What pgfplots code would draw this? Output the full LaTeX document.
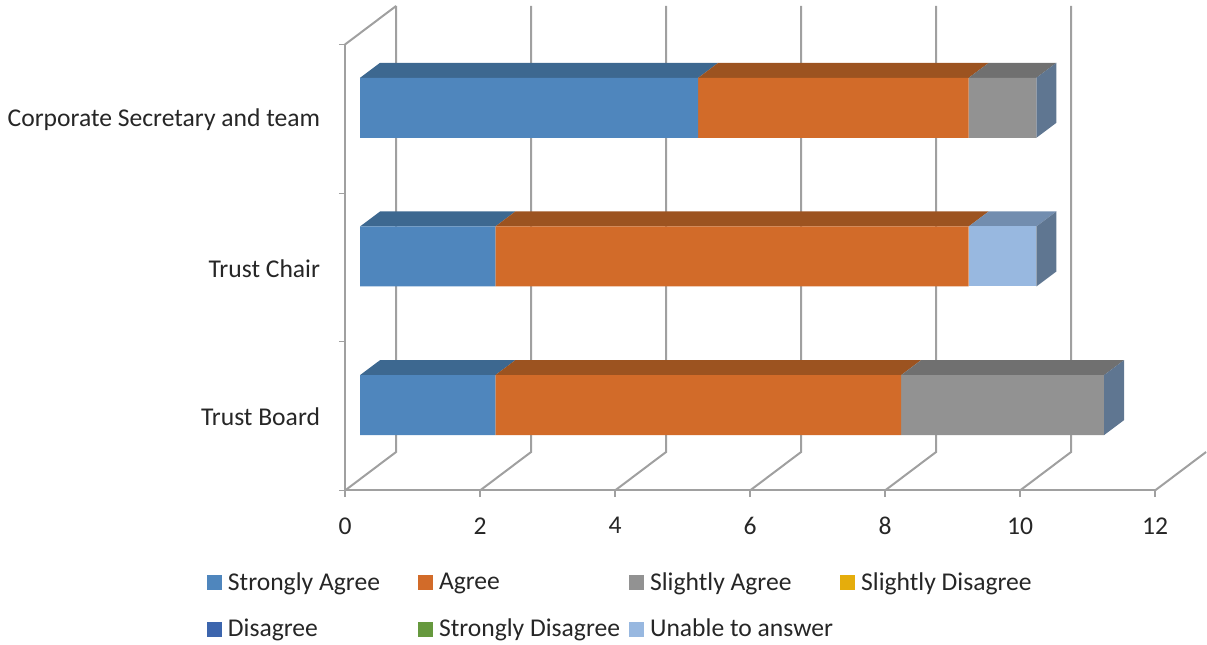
\documentclass[border=0pt]{standalone}
\usepackage{pgfplots}
\pgfplotsset{compat=1.18}
\usepackage{fontspec}
\setmainfont{Carlito}

\definecolor{wallgray}{HTML}{A0A0A0}
\definecolor{txt}{HTML}{262626}
\definecolor{sa}{HTML}{4F86BD}
\definecolor{ag}{HTML}{D26B29}
\definecolor{sl}{HTML}{929292}
\definecolor{sd}{HTML}{E5AD0C}
\definecolor{di}{HTML}{3C65AD}
\definecolor{st}{HTML}{66993E}
\definecolor{un}{HTML}{98B8E0}
\definecolor{satop}{HTML}{3D6890}
\definecolor{agtop}{HTML}{9C5320}
\definecolor{sltop}{HTML}{707070}
\definecolor{untop}{HTML}{728DAF}
\definecolor{barside}{HTML}{5F7691}

\pgfplotsset{
  chartbox/.style={
    scale only axis, width=607.5pt, height=334.5pt,
    xmin=0, xmax=12, ymin=0, ymax=3, clip=false,
  },
  barbox/.style={
    chartbox, width=608.7pt, at={(270pt,124.125pt)}, anchor=south west, hide axis,
  },
  wall/.style={draw=wallgray, line width=1.5pt},
  face/.style={draw=none, fill=#1},
  swatch/.style={
    fill=#1, draw=none,
    legend image code/.code={\fill[##1] (0pt,-5.6pt) rectangle (11.2pt,5.6pt);},
  },
}

\begin{document}
\begin{tikzpicture}
\path[use as bounding box] (0,0) rectangle (905.25pt,483.75pt);

% Frame, walls and gridlines
\begin{axis}[
  chartbox, at={(258.75pt,115.875pt)}, anchor=south west,
  axis x line=bottom, axis y line=left,
  axis line style={draw=wallgray, line width=1.5pt, -},
  tick align=outside,
  xtick={0,2,...,12},
  ytick={0.5,1.5,2.5},
  yticklabels={Trust Board,Trust Chair,Corporate Secretary and team},
  minor ytick={0,1,2,3},
  major tick length=0pt,
  minor tick length=4.5pt,
  every minor tick/.style={draw=wallgray, line width=0.9pt},
  extra x ticks={0,2,...,12},
  extra x tick labels={},
  extra x tick style={major tick length=5pt, tick style={draw=wallgray, line width=0.9pt}},
  ticklabel style={font=\fontsize{19.2}{21}\selectfont, text=txt},
  y tick label style={inner sep=0pt, xshift=-18.5pt, yshift=-0.7pt},
  x tick label style={inner sep=0pt, yshift=-20pt},
  /pgf/number format/assume math mode=true,
]
\addplot[wall] coordinates {(0,3) (0.757,3.259)};
\addplot[wall] coordinates {(0,0) (0.757,0.259) (0.757,3.259)};
\addplot[wall] coordinates {(2,0) (2.757,0.259) (2.757,3.259)};
\addplot[wall] coordinates {(4,0) (4.757,0.259) (4.757,3.259)};
\addplot[wall] coordinates {(6,0) (6.757,0.259) (6.757,3.259)};
\addplot[wall] coordinates {(8,0) (8.757,0.259) (8.757,3.259)};
\addplot[wall] coordinates {(10,0) (10.757,0.259) (10.757,3.259)};
\addplot[wall] coordinates {(12,0) (12.757,0.259)};
\end{axis}

% Top and end faces of the bars
\begin{axis}[barbox]
% Trust Board: 2, 6, 3
\addplot[face=satop] coordinates {(0,0.7018) (2,0.7018) (2.2963,0.8027) (0.2963,0.8027)} -- cycle;
\addplot[face=agtop] coordinates {(2,0.7018) (8,0.7018) (8.2963,0.8027) (2.2963,0.8027)} -- cycle;
\addplot[face=sltop] coordinates {(8,0.7018) (11,0.7018) (11.2963,0.8027) (8.2963,0.8027)} -- cycle;
\addplot[face=barside] coordinates {(11,0.2982) (11,0.7018) (11.2963,0.8027) (11.2963,0.3991)} -- cycle;
% Trust Chair: 2, 7, unable to answer 1
\addplot[face=satop] coordinates {(0,1.7018) (2,1.7018) (2.2963,1.8027) (0.2963,1.8027)} -- cycle;
\addplot[face=agtop] coordinates {(2,1.7018) (9,1.7018) (9.2963,1.8027) (2.2963,1.8027)} -- cycle;
\addplot[face=untop] coordinates {(9,1.7018) (10,1.7018) (10.2963,1.8027) (9.2963,1.8027)} -- cycle;
\addplot[face=barside] coordinates {(10,1.2982) (10,1.7018) (10.2963,1.8027) (10.2963,1.3991)} -- cycle;
% Corporate Secretary and team: 5, 4, 1
\addplot[face=satop] coordinates {(0,2.7018) (5,2.7018) (5.2963,2.8027) (0.2963,2.8027)} -- cycle;
\addplot[face=agtop] coordinates {(5,2.7018) (9,2.7018) (9.2963,2.8027) (5.2963,2.8027)} -- cycle;
\addplot[face=sltop] coordinates {(9,2.7018) (10,2.7018) (10.2963,2.8027) (9.2963,2.8027)} -- cycle;
\addplot[face=barside] coordinates {(10,2.2982) (10,2.7018) (10.2963,2.8027) (10.2963,2.3991)} -- cycle;
\end{axis}

% Stacked front faces and the legend
\begin{axis}[
  barbox,
  xbar stacked, bar width=45pt,
  legend columns=4,
  legend cell align=left,
  legend style={
    at={(-0.1885,-0.209)}, anchor=north west,
    draw=none, fill=none, inner sep=0pt, outer sep=0pt,
    font=\fontsize{19.2}{21}\selectfont, text=txt,
    row sep=20pt,
    nodes={inner sep=0pt},
    /tikz/every odd column/.style={column sep=4.5pt},
  },
]
\addplot[swatch=sa] coordinates {(2,0.5) (2,1.5) (5,2.5)};
\addlegendentry{\makebox[142.6pt][l]{Strongly Agree}}
\addplot[swatch=ag] coordinates {(6,0.5) (7,1.5) (4,2.5)};
\addlegendentry{\makebox[142.6pt][l]{Agree}}
\addplot[swatch=sl] coordinates {(3,0.5) (0,1.5) (1,2.5)};
\addlegendentry{\makebox[142.6pt][l]{Slightly Agree}}
\addplot[swatch=sd] coordinates {(0,0.5) (0,1.5) (0,2.5)};
\addlegendentry{\makebox[142.6pt][l]{Slightly Disagree}}
\addplot[swatch=di] coordinates {(0,0.5) (0,1.5) (0,2.5)};
\addlegendentry{\makebox[142.6pt][l]{Disagree}}
\addplot[swatch=st] coordinates {(0,0.5) (0,1.5) (0,2.5)};
\addlegendentry{\makebox[142.6pt][l]{Strongly Disagree}}
\addplot[swatch=un] coordinates {(0,0.5) (1,1.5) (0,2.5)};
\addlegendentry{\makebox[142.6pt][l]{Unable to answer}}
\end{axis}
\end{tikzpicture}
\end{document}
